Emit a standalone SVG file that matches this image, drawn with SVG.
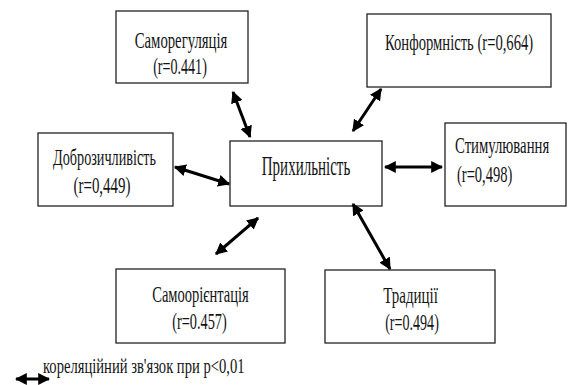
<svg xmlns="http://www.w3.org/2000/svg" width="568" height="385" viewBox="0 0 568 385">
<defs>
<marker id="ah" viewBox="0 0 10 10" refX="9" refY="5" markerWidth="4" markerHeight="4" orient="auto-start-reverse" markerUnits="strokeWidth">
<path d="M0,0 L10,5 L0,10 Z" fill="#000"/>
</marker>
</defs>
<rect width="568" height="385" fill="#fff"/>
<g font-family="Liberation Serif, DejaVu Serif, serif" font-size="24" fill="#141414">
<g id="samoreg"><rect x="116" y="11" width="132" height="72" fill="#fff" stroke="#222" stroke-width="1.3"/>
<text transform="translate(181,48) scale(0.614,1)" text-anchor="middle">Саморегуляція</text>
<text transform="translate(180,74) scale(0.587,1)" text-anchor="middle">(r=0.441)</text></g>
<g id="konf"><rect x="367" y="14" width="184" height="73" fill="#fff" stroke="#222" stroke-width="1.3"/>
<text transform="translate(385,50) scale(0.61,1)">Конформність (r=0,664)</text></g>
<g id="dobro"><rect x="38" y="133" width="135" height="73" fill="#fff" stroke="#222" stroke-width="1.3"/>
<text transform="translate(104.5,165) scale(0.592,1)" text-anchor="middle">Доброзичливість</text>
<text transform="translate(102,193) scale(0.623,1)" text-anchor="middle">(r=0,449)</text></g>
<g id="pryh"><rect x="230" y="141" width="152" height="65" fill="#fff" stroke="#222" stroke-width="1.3"/>
<text transform="translate(306,175) scale(0.536,1)" font-size="28" text-anchor="middle">Прихильність</text></g>
<g id="stym"><rect x="445" y="123" width="121" height="83" fill="#fff" stroke="#222" stroke-width="1.3"/>
<text transform="translate(455,153) scale(0.614,1)">Стимулювання</text>
<text transform="translate(457,182) scale(0.605,1)">(r=0,498)</text></g>
<g id="samoor"><rect x="116" y="269" width="169" height="74" fill="#fff" stroke="#222" stroke-width="1.3"/>
<text transform="translate(200.5,302) scale(0.605,1)" text-anchor="middle">Самоорієнтація</text>
<text transform="translate(199.5,329) scale(0.596,1)" text-anchor="middle">(r=0.457)</text></g>
<g id="trad"><rect x="325" y="270" width="170" height="73" fill="#fff" stroke="#222" stroke-width="1.3"/>
<text transform="translate(410.5,303) scale(0.623,1)" text-anchor="middle">Традиції</text>
<text transform="translate(412,330) scale(0.587,1)" text-anchor="middle">(r=0.494)</text></g>
</g>
<g id="connectors" stroke="#000" stroke-width="3" fill="none" marker-start="url(#ah)" marker-end="url(#ah)">
<line x1="233" y1="92" x2="250" y2="137"/>
<line x1="381" y1="89" x2="353" y2="131"/>
<line x1="175" y1="167" x2="229" y2="184"/>
<line x1="385" y1="167" x2="442" y2="167"/>
<line x1="258" y1="218" x2="216" y2="254"/>
<line x1="353" y1="204" x2="390" y2="269"/>
</g>
<g id="legend">
<line x1="16" y1="379" x2="49" y2="379" stroke="#000" stroke-width="3" marker-start="url(#ah)" marker-end="url(#ah)"/>
<text transform="translate(43,373) scale(0.73,1)" font-family="Liberation Serif, DejaVu Serif, serif" font-size="20" fill="#141414">кореляційний зв'язок  при р&lt;0,01</text>
</g>
</svg>
